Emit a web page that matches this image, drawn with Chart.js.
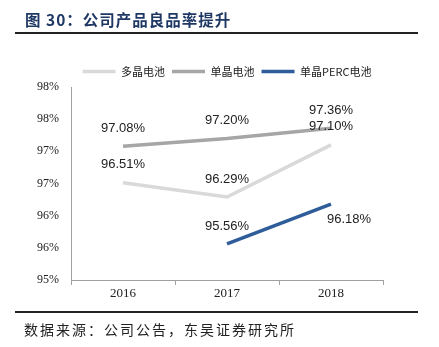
<!DOCTYPE html>
<html>
<head>
<meta charset="utf-8">
<script src="https://cdn.jsdelivr.net/npm/chart.js@4"></script>
<style>
  html, body { margin: 0; padding: 0; background: #fff; }
  #wrap { position: relative; width: 439px; height: 347px; overflow: hidden; }
  #chart { position: absolute; left: 0; top: 0; }
  .title { position: absolute; left: 25px; top: 8px; font: bold 15.5px "Noto Sans CJK SC", sans-serif; color: #1f3864; letter-spacing: 1px; white-space: nowrap; }
  .rule { position: absolute; left: 15px; width: 403px; height: 2px; background: #222; }
  .source { position: absolute; left: 24px; top: 319px; font: 14px "Noto Sans CJK SC", sans-serif; color: #222; letter-spacing: 2px; white-space: nowrap; }
</style>
</head>
<body>
<div id="wrap">
  <canvas id="chart" width="439" height="347"></canvas>
  <div class="title">图 30：公司产品良品率提升</div>
  <div class="rule" style="top:32px"></div>
  <div class="rule" style="top:311px"></div>
  <div class="source">数据来源：公司公告，东吴证券研究所</div>
</div>
<script>
// --- DATA ---
const years = ['2016', '2017', '2018'];
const multiCell = [96.51, 96.29, 97.10];   // 多晶电池
const monoCell = [97.08, 97.20, 97.36];    // 单晶电池
const monoPerc = [null, 95.56, 96.18];     // 单晶PERC电池
const seriesNames = ['多晶电池', '单晶电池', '单晶PERC电池'];

// --- STYLE ---
const colors = ['#d9d9d9', '#a6a6a6', '#2f5d9a'];
const serif = '"Liberation Serif", "Times New Roman", serif';
const sans = '"Liberation Sans", Arial, sans-serif';

// value labels: drawn above each point, except PERC 2018 which sits below-right
function labelOffset(datasetIndex, index) {
    if (datasetIndex === 2 && index === 2) return { dx: 18, dy: 15 };
    return { dx: 0, dy: -18 };
}

const valueLabels = {
    id: 'valueLabels',
    afterDatasetsDraw(chart) {
        const ctx = chart.ctx;
        ctx.save();
        ctx.font = '13px ' + sans;
        ctx.fillStyle = '#222';
        ctx.textAlign = 'center';
        ctx.textBaseline = 'middle';
        chart.data.datasets.forEach((ds, di) => {
            chart.getDatasetMeta(di).data.forEach((pt, i) => {
                const v = ds.data[i];
                if (v === null) return;
                const off = labelOffset(di, i);
                ctx.fillText(v.toFixed(2) + '%', pt.x + off.dx, pt.y + off.dy);
            });
        });
        ctx.restore();
    }
};

function makeDataset(label, data, color) {
    return {
        label: label,
        data: data,
        borderColor: color,
        backgroundColor: color,
        borderWidth: 3.5,
        pointRadius: 0,
        pointHoverRadius: 0,
        tension: 0,
        spanGaps: false
    };
}

new Chart(document.getElementById('chart'), {
    type: 'line',
    data: {
        labels: years,
        datasets: [
            makeDataset(seriesNames[0], multiCell, colors[0]),
            makeDataset(seriesNames[1], monoCell, colors[1]),
            makeDataset(seriesNames[2], monoPerc, colors[2])
        ]
    },
    options: {
        responsive: false,
        animation: false,
        layout: { padding: { left: 0, right: 56, top: 59, bottom: 40 } },
        plugins: {
            legend: {
                display: true,
                position: 'top',
                fullSize: false,   // centre the legend over the plot area only
                labels: {
                    usePointStyle: true,
                    pointStyle: 'line',
                    pointStyleWidth: 33,
                    boxHeight: 11,
                    padding: 7,
                    color: '#222',
                    font: { family: '"Noto Sans CJK SC", sans-serif', size: 11 }
                }
            },
            tooltip: { enabled: false }
        },
        scales: {
            x: {
                offset: true,
                grid: { offset: true, drawOnChartArea: false, tickLength: 5, color: '#a0a0a0' },
                border: { color: '#a0a0a0', width: 1 },
                ticks: { color: '#222', padding: 1, font: { family: serif, size: 13 } },
                afterFit(scale) { scale.height = 27; }
            },
            y: {
                min: 95,
                max: 98,
                grid: { drawOnChartArea: false, drawTicks: false },
                border: { color: '#a0a0a0', width: 1 },
                ticks: {
                    stepSize: 0.5,
                    padding: 12,
                    color: '#222',
                    font: { family: serif, size: 12 },
                    callback: v => Math.round(v) + '%'
                },
                afterFit(scale) { scale.width = 71; }
            }
        }
    },
    plugins: [valueLabels]
});
</script>
</body>
</html>
